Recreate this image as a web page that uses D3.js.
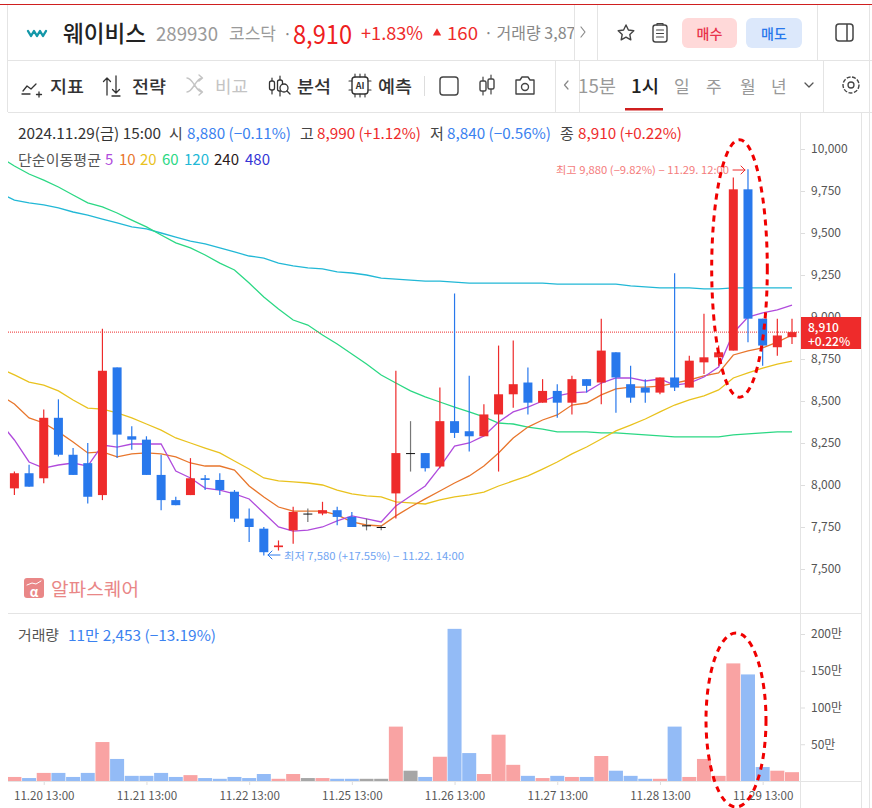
<!DOCTYPE html>
<html><head><meta charset="utf-8">
<style>html,body{margin:0;padding:0;background:#fff;overflow:hidden}svg{display:block}text{font-family:"Noto Sans CJK KR","Noto Sans",sans-serif}</style>
<script src="https://cdn.jsdelivr.net/npm/d3@7/dist/d3.min.js"></script>
</head><body><svg id="c" width="872" height="808" xmlns="http://www.w3.org/2000/svg"></svg>
<script>
// ---------- data ----------
const open  = [7980,8070,8040,8400,8180,8130,7940,8700,8290,8270,8060,7910,7940,8040,8030,7960,7800,7740,7630,7730,7830,7830,7850,7810,7760,7750,7950,8190,8190,8110,8380,8320,8290,8420,8540,8610,8490,8560,8490,8630,8610,8790,8600,8580,8550,8640,8580,8730,8760,8800,9760,8990,8820,8880];
const high  = [8080,8120,8450,8510,8220,8250,8930,8700,8350,8290,8180,7930,8160,8060,8070,7970,7860,7750,7670,7870,7860,7900,7870,7840,7800,7760,8680,8380,8190,8580,9140,8650,8480,8830,8860,8700,8630,8600,8650,8630,8990,8790,8710,8630,8640,9260,8770,9020,8830,9830,9880,8990,8990,8990];
const low   = [7940,7990,8010,8170,8060,7890,7910,8160,8210,8060,7850,7880,7940,7970,7940,7780,7660,7580,7610,7650,7780,7820,7760,7750,7730,7730,7800,8080,8080,8100,8280,8200,8290,8080,8460,8420,8490,8400,8420,8550,8480,8430,8490,8490,8540,8560,8580,8660,8710,8800,8850,8710,8770,8840];
const close = [8070,7990,8400,8180,8060,7930,8680,8300,8270,8060,7910,7880,8040,8030,7970,7800,7750,7600,7640,7840,7830,7850,7810,7750,7760,7750,8190,8190,8100,8380,8310,8290,8420,8540,8600,8490,8560,8490,8630,8590,8800,8640,8520,8550,8640,8580,8740,8760,8790,9760,8990,8830,8890,8910];
// volume in 만 shares
const volume = [5.5,4,11,11,5.5,11,53,30,7,7,11,5.5,8,4,3,5.5,4,9.5,3,9.5,4,4,3,3,3,3,74,14,5.5,33,207,38,9.5,63,22,7,4,7,5.5,5.5,34,14,7,3,3,74,5.5,30,7,160,145,19,14,12];
// moving averages: first value belongs to the hour before the first candle
const ma5   = [8375,8268,8137,8101,8119,8131,8113,8238,8226,8244,8244,8244,8083,8042,7982,7970,7947,7917,7833,7750,7726,7732,7750,7786,7816,7798,7780,7875,7935,7994,8107,8232,8250,8292,8375,8435,8464,8500,8530,8548,8554,8607,8637,8637,8619,8631,8595,8607,8643,8702,8905,9000,9024,9042,9071];
const ma10  = [8536,8482,8399,8369,8316,8256,8191,8197,8167,8185,8191,8185,8167,8131,8113,8113,8089,7994,7929,7869,7845,7845,7845,7822,7780,7762,7756,7816,7869,7917,7964,8012,8054,8113,8191,8280,8345,8387,8417,8476,8488,8536,8572,8583,8583,8589,8607,8625,8649,8667,8774,8798,8816,8851,8893];
const ma20  = [8696,8655,8613,8595,8560,8506,8458,8452,8429,8399,8363,8327,8280,8250,8220,8191,8143,8095,8042,8024,8018,8012,8000,7970,7947,7935,7929,7899,7893,7887,7911,7929,7941,7958,7994,8024,8054,8095,8137,8185,8226,8274,8322,8357,8393,8435,8476,8506,8530,8566,8637,8667,8696,8720,8738];
const ma60  = [9952,9899,9851,9815,9774,9726,9679,9655,9619,9577,9536,9488,9441,9411,9369,9321,9280,9202,9119,9048,8982,8952,8893,8839,8780,8720,8655,8607,8560,8524,8494,8464,8435,8405,8369,8363,8345,8333,8316,8316,8316,8310,8310,8304,8298,8292,8286,8286,8286,8286,8298,8304,8310,8316,8316];
const ma120 = [9738,9696,9679,9667,9649,9625,9607,9583,9560,9536,9524,9500,9476,9452,9435,9411,9387,9363,9351,9321,9304,9292,9286,9268,9262,9250,9232,9226,9220,9214,9214,9208,9202,9202,9202,9202,9202,9202,9196,9196,9196,9196,9196,9185,9179,9173,9173,9173,9167,9167,9173,9173,9173,9173,9173];
const priceTicks = [7500,7750,8000,8250,8500,8750,9000,9250,9500,9750,10000];
const volumeTicks = [50,100,150,200];
const dateTickIdx = [2,9,16,23,30,37,44,51];
const dateTickLabels = ["11.20 13:00","11.21 13:00","11.22 13:00","11.25 13:00","11.26 13:00","11.27 13:00","11.28 13:00","11.29 13:00"];
const maPeriods = ["5","10","20","60","120","240","480"];

// ---------- palette ----------
const RED="#EE2B2B",BLUE="#2878EC",PINK="#F9A3A3",SKY="#93BBF6",GREY="#A6A6A6",LINE="#E4E4E4",TXT="#555";
const maColors={5:"#B04BDC",10:"#E8762C",20:"#E9C21E",60:"#2BD884",120:"#22B8D6",240:"#2A1A1A",480:"#3535D5"};

const svg=d3.select("#c");
const x=d3.scaleLinear().domain([0,53]).range([14.4,792]);
const y=d3.scaleLinear().domain([7500,10000]).range([569,149]);
const yv=d3.scaleLinear().domain([0,200]).range([781,634]);
const defs=svg.append("defs");
defs.append("clipPath").attr("id","plot").append("rect").attr("x",8).attr("y",115).attr("width",792).attr("height",690);
defs.append("clipPath").attr("id","trade").append("rect").attr("x",0).attr("y",10).attr("width",574).attr("height",48);

function T(s,px,py,o={}){
  const t=svg.append("text").attr("x",px).attr("y",py).attr("font-size",o.size||14).attr("fill",o.fill||"#333").attr("dominant-baseline","central").text(s);
  if(o.weight)t.attr("font-weight",o.weight);
  if(o.anchor)t.attr("text-anchor",o.anchor);
  if(o.w)t.attr("textLength",o.w).attr("lengthAdjust","spacingAndGlyphs");
  if(o.clip)t.attr("clip-path",`url(#${o.clip})`);
  return t;
}
function hline(a,b,yy,c=LINE,sw=1){svg.append("line").attr("x1",a).attr("x2",b).attr("y1",yy).attr("y2",yy).attr("stroke",c).attr("stroke-width",sw)}
function vline(xx,a,b,c=LINE,sw=1){svg.append("line").attr("x1",xx).attr("x2",xx).attr("y1",a).attr("y2",b).attr("stroke",c).attr("stroke-width",sw)}
function P(d,stroke="#555",sw=1.4,fill="none"){return svg.append("path").attr("d",d).attr("stroke",stroke).attr("stroke-width",sw).attr("fill",fill).attr("stroke-linecap","round").attr("stroke-linejoin","round")}

// ---------- chrome ----------
hline(0,872,4.5,"#CF1F1F",1.2);
hline(8,872,60.5); hline(8,872,112.5);
vline(7.5,5,112); vline(574.5,5,60); vline(597.5,5,60); vline(817.5,5,60); vline(869.5,5,808);
vline(555.5,61,112); vline(579.5,61,112); vline(823.5,61,112);

// logo
P("M28 31l3 5 3-5 3 5 3-5 3 5 3-5","#1497A8",2.4);
T("웨이비스",63,32,{size:23,weight:500,fill:"#222",w:83});
T("289930",156,32,{size:19,fill:"#9a9a9a",w:62});
T("코스닥",229,32,{size:17,fill:"#9a9a9a",w:47});
T("·",283,33,{size:16,fill:"#888"});
T("8,910",293,32,{size:26,weight:400,fill:"#EE2020",w:59});
T("+1.83%",361,32,{size:18,fill:"#EE2B2B",w:62});
svg.append("path").attr("d",d3.symbol(d3.symbolTriangle,30)()).attr("transform","translate(437,33)").attr("fill",RED);
T("160",447,32,{size:18,fill:RED,w:31});
T("· 거래량 3,87",484,32,{size:16,fill:"#888",clip:"trade"});
P("M581 27l4 5-4 5","#888",1.2);
// star, clipboard
P("M626 25l2.4 5 5.4.7-4 3.7 1 5.4-4.8-2.7-4.8 2.7 1-5.4-4-3.7 5.4-.7z","#444",1.4);
svg.append("rect").attr("x",653).attr("y",25).attr("width",14).attr("height",17).attr("rx",2.5).attr("fill","none").attr("stroke","#444").attr("stroke-width",1.4);
P("M657 25v-1.5h6V25M656.5 30h7M656.5 33.5h7M656.5 37h7","#444",1.2);
svg.append("rect").attr("x",682).attr("y",18).attr("width",55).attr("height",30).attr("rx",6).attr("fill","#FFD9D9");
T("매수",709.5,33,{size:14,weight:500,fill:"#E8324A",anchor:"middle"});
svg.append("rect").attr("x",746).attr("y",18).attr("width",56).attr("height",30).attr("rx",6).attr("fill","#DCE8FB");
T("매도",774,33,{size:14,weight:500,fill:BLUE,anchor:"middle"});
svg.append("rect").attr("x",836).attr("y",24).attr("width",17).attr("height",17).attr("rx",3).attr("fill","none").attr("stroke","#444").attr("stroke-width",1.5);
vline(847,24,41,"#444",1.5);

// toolbar
P("M23 91l4-5 4 3 5-5M22 94h8M39 92v5M36.5 94.5h5","#333",1.3);
T("지표",50,85,{size:17,weight:500,fill:"#333",w:34});
P("M107 95V78M103.5 81.5l3.5-3.5 3.5 3.5M116 76v17M112.5 89.5l3.5 3.5 3.5-3.5M112 96h8","#333",1.3);
T("전략",132,85,{size:17,weight:500,fill:"#333",w:34});
P("M187 78c6 0 9 14 15 14M187 92c6 0 9-14 15-14M199 75l3.5 3-3.5 3M199 89l3.5 3-3.5 3","#c4c4c4",1.4);
T("비교",215,85,{size:17,weight:400,fill:"#c4c4c4",w:33});
P("M272 78v16M280 76v20","#333",1.2);
svg.append("rect").attr("x",269.5).attr("y",81).attr("width",5).attr("height",9).attr("rx",2).attr("fill","#fff").attr("stroke","#333").attr("stroke-width",1.3);
svg.append("rect").attr("x",277.5).attr("y",80).attr("width",5).attr("height",11).attr("rx",2).attr("fill","#fff").attr("stroke","#333").attr("stroke-width",1.3);
svg.append("circle").attr("cx",284).attr("cy",88).attr("r",4).attr("fill","#fff").attr("stroke","#333").attr("stroke-width",1.3);
P("M287 91l3 3","#333",1.3);
T("분석",297,85,{size:17,weight:500,fill:"#333",w:34});
svg.append("rect").attr("x",352).attr("y",77).attr("width",16).attr("height",17).attr("rx",3).attr("fill","none").attr("stroke","#333").attr("stroke-width",1.4);
P("M355 74v3M360 74v3M365 74v3M355 94v3M360 94v3M365 94v3M349 81h3M349 90h3M368 81h3M368 90h3","#333",1.1);
T("AI",360,85.5,{size:9,weight:700,fill:"#333",anchor:"middle"});
T("예측",378,85,{size:17,weight:500,fill:"#333",w:34});
vline(424.5,76,96,"#ddd");
svg.append("rect").attr("x",440).attr("y",77).attr("width",18).attr("height",18).attr("rx",3).attr("fill","none").attr("stroke","#444").attr("stroke-width",1.4);
P("M483 77v18M491 75v19","#444",1.2);
svg.append("rect").attr("x",480).attr("y",81).attr("width",6).attr("height",10).attr("rx",1.5).attr("fill","#fff").attr("stroke","#444").attr("stroke-width",1.4);
svg.append("rect").attr("x",488).attr("y",79).attr("width",6).attr("height",10).attr("rx",1.5).attr("fill","#fff").attr("stroke","#444").attr("stroke-width",1.4);
P("M516 80h4l2-3h6l2 3h4v14h-18z","#444",1.4);
svg.append("circle").attr("cx",525).attr("cy",87).attr("r",3.5).attr("fill","none").attr("stroke","#444").attr("stroke-width",1.4);
P("M568 81l-3.5 4 3.5 4","#888",1.2);
T("15분",578,85,{size:18,fill:"#999",w:38});
T("1시",631,85,{size:18,weight:500,fill:"#222",w:28});
svg.append("rect").attr("x",625).attr("y",108).attr("width",38).attr("height",2.5).attr("fill","#CF1F1F");
[["일",682],["주",714],["월",748],["년",779]].forEach(d=>T(d[0],d[1]-8,85,{size:17,fill:"#999"}));
P("M805 83l4 4 4-4","#555",1.3);
svg.append("circle").attr("cx",851).attr("cy",85).attr("r",3).attr("fill","none").attr("stroke","#444").attr("stroke-width",1.3);
svg.append("circle").attr("cx",851).attr("cy",85).attr("r",8).attr("fill","none").attr("stroke","#444").attr("stroke-width",1.4).attr("stroke-dasharray","4 1.5");

// ---------- pane frames ----------
hline(8,861,613.5);
vline(800.5,113,808);
vline(861.5,113,808);
hline(8,861,781.5);

// ---------- axes ----------
const axP=svg.append("g").attr("transform","translate(801,0)")
  .call(d3.axisRight(y).tickValues(priceTicks).tickFormat(d3.format(",")).tickSize(4).tickPadding(6));
const axV=svg.append("g").attr("transform","translate(801,0)")
  .call(d3.axisRight(yv).tickValues(volumeTicks).tickFormat(d=>d+"만").tickSize(4).tickPadding(6));
const axX=svg.append("g").attr("transform","translate(0,782)")
  .call(d3.axisBottom(x).tickValues(dateTickIdx).tickFormat((d,i)=>dateTickLabels[i]).tickSize(3).tickPadding(7));
[axP,axV,axX].forEach(g=>{g.select(".domain").remove();g.selectAll("line").attr("stroke","#ddd");
  g.selectAll("text").attr("fill",TXT).attr("font-size",12).style("font-family",'"Noto Sans CJK KR"')});
axX.selectAll("text").attr("font-size",11.6);

// ---------- price pane ----------
const plot=svg.append("g").attr("clip-path","url(#plot)");
const line=d3.line().x((d,i)=>x(i-1)).y(d=>y(d));
[[ma120,120],[ma60,60],[ma20,20],[ma10,10],[ma5,5]].forEach(([a,p])=>{
  plot.append("path").attr("d",line(a)).attr("fill","none").attr("stroke",maColors[p]).attr("stroke-width",1.3);
});
plot.append("line").attr("x1",8).attr("x2",800).attr("y1",y(close[53])).attr("y2",y(close[53]))
  .attr("stroke",RED).attr("stroke-width",1).attr("stroke-dasharray","1 1");

const candleColor=i=>close[i]>open[i]?RED:close[i]<open[i]?BLUE:"#111";
const idx=d3.range(open.length);
plot.selectAll(".wick").data(idx).join("line").attr("class","wick")
  .attr("x1",i=>x(i)).attr("x2",i=>x(i)).attr("y1",i=>y(high[i])).attr("y2",i=>y(low[i]))
  .attr("stroke",i=>close[i]===open[i]?"#777":candleColor(i)).attr("stroke-width",1.2);
plot.selectAll(".body").data(idx).join("rect").attr("class","body")
  .attr("x",i=>x(i)-4.5).attr("width",9)
  .attr("y",i=>y(Math.max(open[i],close[i])))
  .attr("height",i=>Math.max(1,Math.abs(y(open[i])-y(close[i]))))
  .attr("fill",candleColor);

// ---------- volume pane ----------
const volColor=i=>close[i]>open[i]?PINK:close[i]<open[i]?SKY:GREY;
plot.selectAll(".vol").data(volume).join("rect").attr("class","vol")
  .attr("x",(d,i)=>x(i)-7).attr("width",14)
  .attr("y",d=>yv(d)).attr("height",d=>yv(0)-yv(d))
  .attr("fill",(d,i)=>volColor(i));

// ---------- current price tag ----------
svg.append("rect").attr("x",801).attr("y",317).attr("width",60).attr("height",32).attr("fill",RED);
T("8,910",808,326,{size:12,weight:500,fill:"#fff"});
T("+0.22%",808,340,{size:12,weight:500,fill:"#fff"});

// ---------- legend text ----------
T("2024.11.29(금) 15:00",18,132.5,{size:15,fill:"#333",w:143});
T("시",169,132.5,{size:15,fill:"#444"});
T("8,880 (−0.11%)",187,132.5,{size:15,fill:"#3B82F0",w:104});
T("고",300,132.5,{size:15,fill:"#444"});
T("8,990 (+1.12%)",317,132.5,{size:15,fill:RED,w:104});
T("저",430,132.5,{size:15,fill:"#444"});
T("8,840 (−0.56%)",447,132.5,{size:15,fill:"#3B82F0",w:104});
T("종",560,132.5,{size:15,fill:"#444"});
T("8,910 (+0.22%)",578,132.5,{size:15,fill:RED,w:104});
T("단순이동평균",18,158.5,{size:14,fill:"#555",w:83});
[105,119,140,162,184,214,245].forEach((px,i)=>T(maPeriods[i],px,158.5,{size:15,fill:maColors[maPeriods[i]]}));

T("거래량",18,634,{size:14,fill:"#555",w:41});
T("11만 2,453 (−13.19%)",68,634,{size:14.5,fill:"#3B82F0",w:148});

// annotations
T("최고 9,880 (−9.82%) − 11.29. 12:00",556,169.5,{size:10.5,fill:"#F47C7C",w:173});
P("M733 170h12M741 166l4 4-4 4",RED,1);
T("최저 7,580 (+17.55%) − 11.22. 14:00",284,555,{size:10.5,fill:"#6FA4F2",w:180});
P("M280 555h-12M272 551l-4 4 4 4",BLUE,1);

// watermark
svg.append("rect").attr("x",24).attr("y",578).attr("width",20).attr("height",20).attr("rx",3).attr("fill","#E98787");
P("M27 585l5-2 4 1 5-3","#fff",1);
T("α",34,591,{size:13,weight:700,fill:"#fff",anchor:"middle"});
T("알파스퀘어",51,588,{size:18,fill:"#E98787",w:88});

// hand drawn ellipses
[[739.5,268.5,27.8,128.7],[736,720,30,87]].forEach(e=>{
  svg.append("ellipse").attr("cx",e[0]).attr("cy",e[1]).attr("rx",e[2]).attr("ry",e[3])
    .attr("fill","none").attr("stroke","#F00000").attr("stroke-width",3).attr("stroke-dasharray","6 5");
});
</script></body></html>
